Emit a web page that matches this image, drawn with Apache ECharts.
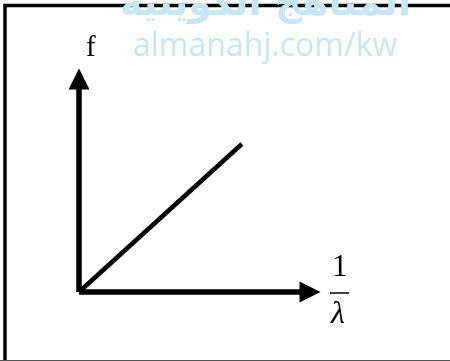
<!DOCTYPE html>
<html>
<head>
<meta charset="utf-8">
<script src="https://cdn.jsdelivr.net/npm/echarts@6/dist/echarts.min.js"></script>
<style>
  html, body { margin: 0; padding: 0; background: #ffffff; }
  #chart { width: 450px; height: 361px; }
</style>
</head>
<body>
<div id="chart"></div>
<script>
// f is proportional to 1/λ : a straight line through the origin
const inverseWavelength = [0, 7.05];
const frequency = [0, 6.95];
const axisMax = 10;
const yAxisTitle = 'f';
const xAxisNumerator = '1';
const xAxisDenominator = 'λ';
const siteMark = 'almanahj.com/kw';
const siteMarkArabic = 'المناهج الكويتية';

const points = inverseWavelength.map((x, i) => [x, frequency[i]]);

const chart = echarts.init(document.getElementById('chart'), null, { renderer: 'canvas' });

const axisCommon = {
  type: 'value',
  min: 0,
  max: axisMax,
  splitLine: { show: false },
  axisTick: { show: false },
  axisLabel: { show: false },
  axisLine: {
    show: true,
    onZero: false,
    symbol: ['none', 'triangle'],
    symbolSize: [21, 21],
    lineStyle: { color: '#000000', width: 5.5, cap: 'butt' }
  }
};

chart.setOption({
  backgroundColor: '#ffffff',
  animation: false,
  grid: { left: 79, right: 140, top: 79, bottom: 69 },
  xAxis: Object.assign({}, axisCommon),
  yAxis: Object.assign({}, axisCommon),
  series: [{
    type: 'line',
    data: points,
    symbol: 'none',
    lineStyle: { color: '#000000', width: 4.5, cap: 'butt' }
  }],
  graphic: [
    // frame
    { type: 'rect', shape: { x: 5, y: 5.5, width: 470, height: 420 },
      style: { fill: 'none', stroke: '#000000', lineWidth: 3.5 }, silent: true },
    { type: 'line', shape: { x1: 0, y1: 360.5, x2: 450, y2: 360.5 },
      style: { stroke: '#555555', lineWidth: 1 }, silent: true },
    // watermark
    { type: 'text', left: 120, top: -14, z: 0,
      style: { text: siteMarkArabic, fill: '#c6e6f5', font: 'bold 38px "DejaVu Sans"' } },
    { type: 'text', left: 133, top: 31, z: 0,
      style: { text: siteMark, fill: '#c6e6f5', font: '32px "Open Sans"' } },
    // axis titles
    { type: 'text', left: 86, top: 34, z: 10,
      style: { text: yAxisTitle, fill: '#000000', font: '29px "Liberation Serif"' } },
    { type: 'text', left: 332, top: 252, z: 10,
      style: { text: xAxisNumerator, fill: '#000000', font: '31px "Liberation Serif"' } },
    { type: 'line', z: 10, shape: { x1: 330, y1: 293, x2: 349, y2: 293 },
      style: { stroke: '#000000', lineWidth: 1.5 } },
    { type: 'text', left: 331, top: 299, z: 10,
      style: { text: xAxisDenominator, fill: '#000000', font: 'italic 32px "Liberation Serif"' } }
  ]
});
</script>
</body>
</html>
